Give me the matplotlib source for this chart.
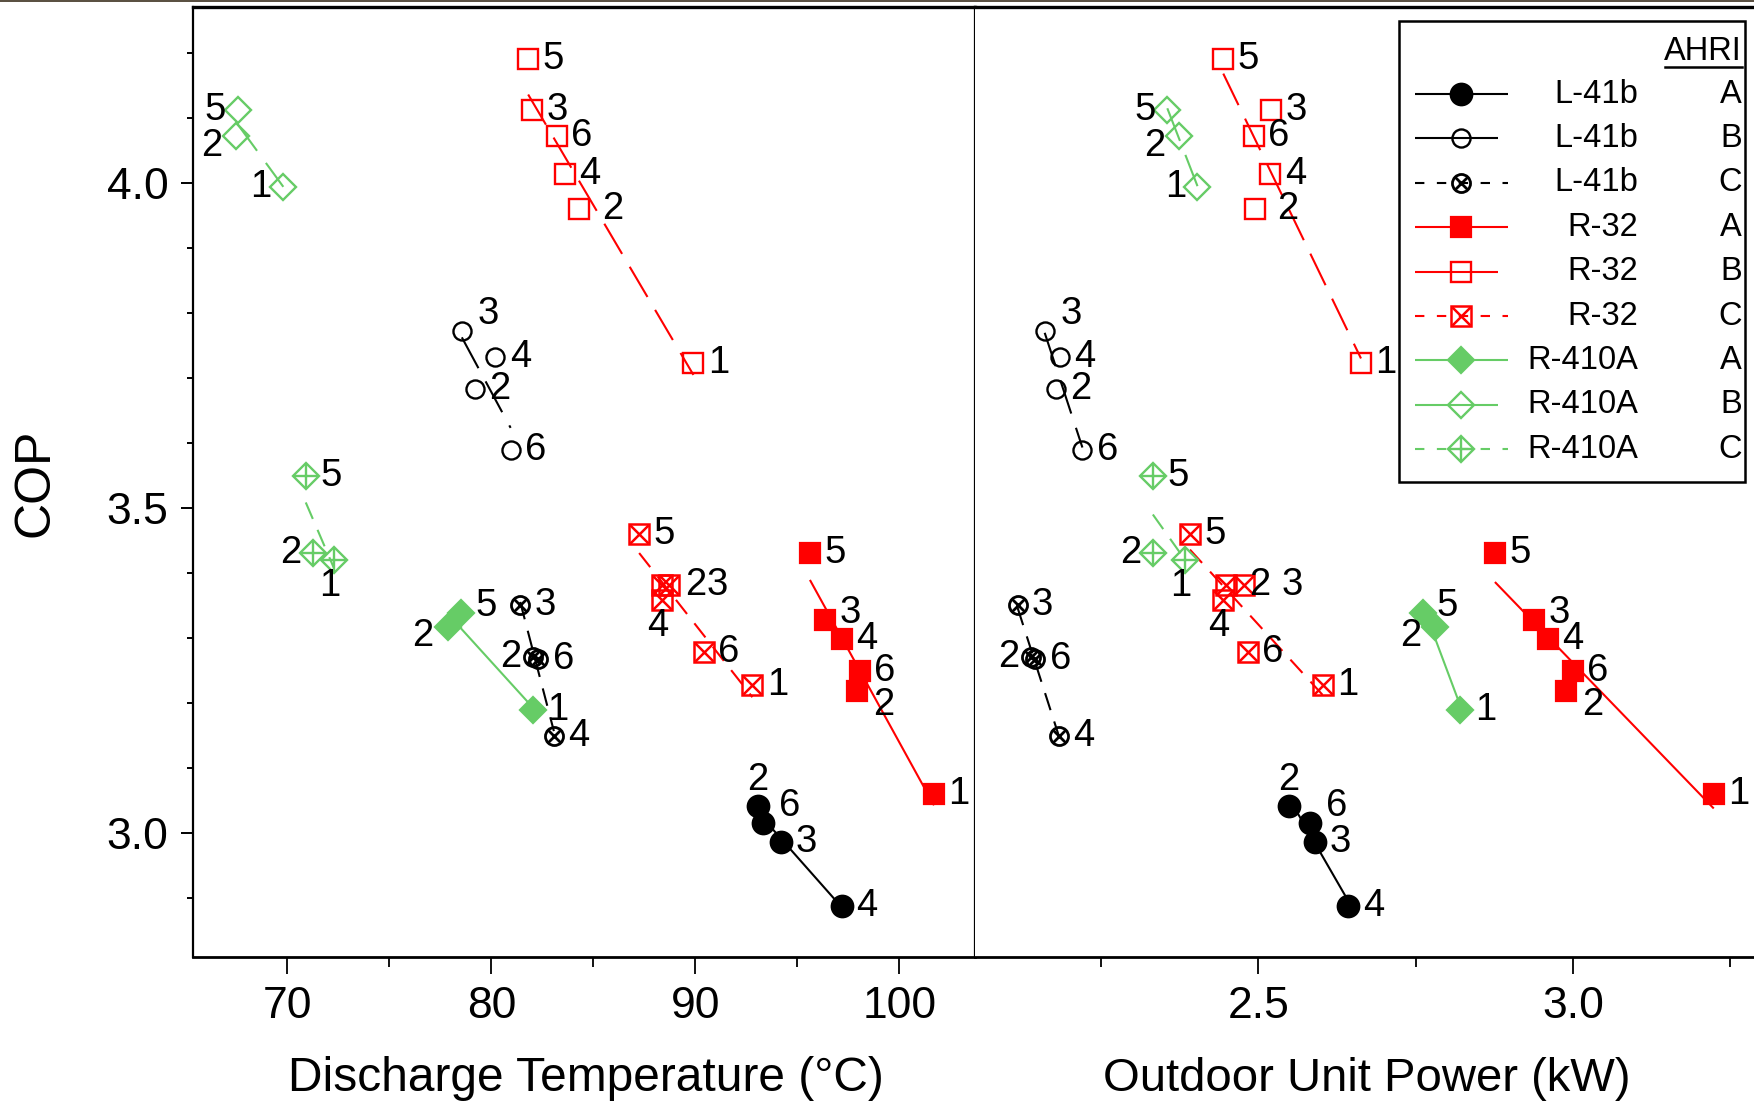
import numpy as np
import matplotlib
matplotlib.use("Agg")
import matplotlib.pyplot as plt
from matplotlib.lines import Line2D
from matplotlib.patches import Rectangle

plt.rcParams["font.family"] = ["Liberation Sans", "DejaVu Sans"]

# ---------------------------------------------------------------- data
# test point numbers for each refrigerant
l41b_ids = ["2", "3", "4", "6"]
r32_ids = ["1", "2", "3", "4", "5", "6"]
r410a_ids = ["1", "2", "5"]

# L-41b
l41b_a_temp = [93.06, 94.19, 97.17, 93.32]
l41b_a_power = [2.548, 2.590, 2.643, 2.582]
l41b_a_cop = [3.041, 2.986, 2.887, 3.015]

l41b_b_temp = [79.19, 78.55, 80.19, 80.94]
l41b_b_power = [2.178, 2.160, 2.184, 2.220]
l41b_b_cop = [3.683, 3.772, 3.732, 3.589]

l41b_c_temp = [82.05, 81.41, 83.06, 82.30]
l41b_c_power = [2.138, 2.117, 2.183, 2.145]
l41b_c_cop = [3.270, 3.351, 3.149, 3.267]

# R-32
r32_a_temp = [101.69, 97.92, 96.37, 97.17, 95.61, 98.07]
r32_a_power = [3.224, 2.989, 2.938, 2.960, 2.876, 3.000]
r32_a_cop = [3.060, 3.218, 3.327, 3.298, 3.431, 3.248]

r32_b_temp = [89.90, 84.30, 82.00, 83.60, 81.80, 83.20]
r32_b_power = [2.663, 2.494, 2.520, 2.519, 2.444, 2.493]
r32_b_cop = [3.722, 3.959, 4.112, 4.013, 4.190, 4.072]

r32_c_temp = [92.79, 88.36, 88.69, 88.36, 87.24, 90.42]
r32_c_power = [2.602, 2.448, 2.477, 2.443, 2.391, 2.483]
r32_c_cop = [3.227, 3.381, 3.381, 3.358, 3.460, 3.278]

# R-410A
r410a_a_temp = [82.03, 77.86, 78.49]
r410a_a_power = [2.821, 2.781, 2.761]
r410a_a_cop = [3.189, 3.317, 3.338]

r410a_b_temp = [69.80, 67.50, 67.56]
r410a_b_power = [2.403, 2.374, 2.355]
r410a_b_cop = [3.993, 4.071, 4.112]

r410a_c_temp = [72.28, 71.23, 70.90]
r410a_c_power = [2.383, 2.332, 2.332]
r410a_c_cop = [3.420, 3.430, 3.549]

temp_ticks = [70, 80, 90, 100]
power_ticks = [2.5, 3.0]
cop_ticks = [3.0, 3.5, 4.0]

# ---------------------------------------------------------------- styles
RED = "#ff0000"
GREEN = "#66cc66"
BLACK = "#000000"
LW = 1.5
DASH_B = (16.8, 7.2)
DASH_C = (8.6, 5.7)
DASH_LEG = (4.5, 6.0)
NUM_SIZE = 27.5

# label placement codes -> offsets in points
OFFSETS = {
    "r": (18, 0), "l": (-16, 0), "u": (0, 19), "d": (-3, -19),
    "ru": (19, 12), "rs": (18, 5), "rd": (19, -10), "ld": (-18, -7),
    "rr": (24, 0), "r2": (24.5, 0), "r3": (35, 0),
}

series = [
    dict(name="L-41b", ahri="A", ids=l41b_ids, temp=l41b_a_temp, power=l41b_a_power,
         cop=l41b_a_cop, color=BLACK, marker="o", ms=15.5, filled=True, over=None,
         dash=None, mew=1.6, pos=["u", "r", "r", "ru"]),
    dict(name="L-41b", ahri="B", ids=l41b_ids, temp=l41b_b_temp, power=l41b_b_power,
         cop=l41b_b_cop, color=BLACK, marker="o", ms=13, filled=False, over=None,
         dash=DASH_B, mew=1.7, pos=["r", "ru", "r", "r"]),
    dict(name="L-41b", ahri="C", ids=l41b_ids, temp=l41b_c_temp, power=l41b_c_power,
         cop=l41b_c_cop, color=BLACK, marker="o", ms=13, filled=False, over=("x", 8),
         dash=DASH_C, mew=2.0, pos=["l", "r", "r", "r"]),
    dict(name="R-32", ahri="A", ids=r32_ids, temp=r32_a_temp, power=r32_a_power,
         cop=r32_a_cop, color=RED, marker="s", ms=14.5, filled=True, over=None,
         dash=None, mew=1.6, pos=["r", "rd", "rs", "r", "r", "r"]),
    dict(name="R-32", ahri="B", ids=r32_ids, temp=r32_b_temp, power=r32_b_power,
         cop=r32_b_cop, color=RED, marker="s", ms=14.5, filled=False, over=None,
         dash=DASH_B, mew=1.7, pos=["r", "rr", "r", "r", "r", "r"]),
    dict(name="R-32", ahri="C", ids=r32_ids, temp=r32_c_temp, power=r32_c_power,
         cop=r32_c_cop, color=RED, marker="s", ms=14.5, filled=False, over=("x", 13.5),
         dash=DASH_C, mew=1.8, pos=["r", "r2", "r3", "d", "r", "r"]),
    dict(name="R-410A", ahri="A", ids=r410a_ids, temp=r410a_a_temp, power=r410a_a_power,
         cop=r410a_a_cop, color=GREEN, marker="D", ms=13.5, filled=True, over=None,
         dash=None, mew=1.6, pos=["r", "ld", "rs"]),
    dict(name="R-410A", ahri="B", ids=r410a_ids, temp=r410a_b_temp, power=r410a_b_power,
         cop=r410a_b_cop, color=GREEN, marker="D", ms=13.5, filled=False, over=None,
         dash=DASH_B, mew=1.7, pos=["l", "ld", "l"]),
    dict(name="R-410A", ahri="C", ids=r410a_ids, temp=r410a_c_temp, power=r410a_c_power,
         cop=r410a_c_cop, color=GREEN, marker="D", ms=13.5, filled=False, over=("+", 18.5),
         dash=DASH_C, mew=1.7, pos=["d", "l", "r"]),
]


def marker_kw(s):
    return dict(marker=s["marker"], ms=s["ms"], mew=s["mew"], mec=s["color"],
                mfc=s["color"] if s["filled"] else "none")


def draw_series(ax, s, key):
    x = np.asarray(s[key], dtype=float)
    y = np.asarray(s["cop"], dtype=float)
    # least-squares trend line over the measured range
    k, b = np.polyfit(x, y, 1)
    xf = np.array([x.min(), x.max()])
    line, = ax.plot(xf, k * xf + b, color=s["color"], lw=LW, zorder=2,
                    solid_capstyle="butt", dash_capstyle="butt")
    if s["dash"] is not None:
        line.set_dashes(s["dash"])
    ax.plot(x, y, ls="none", zorder=3, **marker_kw(s))
    if s["over"] is not None:
        m, ms = s["over"]
        ax.plot(x, y, ls="none", marker=m, ms=ms, mew=s["mew"], mec=s["color"], zorder=4)
    for xi, yi, lab, p in zip(x, y, s["ids"], s["pos"]):
        ax.annotate(lab, (xi, yi), xytext=OFFSETS[p], textcoords="offset points",
                    ha="center", va="center", fontsize=NUM_SIZE, color="black", zorder=5)


# ---------------------------------------------------------------- figure
fig = plt.figure(figsize=(17.54, 11.02), dpi=100)
ax1 = fig.add_axes([0.1100, 0.1316, 0.4461, 0.8621])
ax2 = fig.add_axes([0.5561, 0.1316, 0.4439, 0.8621])

for s in series:
    draw_series(ax1, s, "temp")
    draw_series(ax2, s, "power")

ax1.set_xlim(65.37, 103.72)
ax2.set_xlim(2.0498, 3.288)
for ax in (ax1, ax2):
    ax.set_ylim(2.8088, 4.2703)
    ax.spines["top"].set_linewidth(2.4)
    ax.spines["bottom"].set_linewidth(2.0)
    ax.tick_params(axis="x", which="major", length=12, width=1.3, pad=9,
                   labelsize=32, direction="out")
    ax.tick_params(axis="x", which="minor", length=7, width=1.3, direction="out")

ax1.set_xticks(temp_ticks)
ax1.set_xticks([75, 85, 95], minor=True)
ax1.set_xticklabels([str(t) for t in temp_ticks])
ax1.set_yticks(cop_ticks)
ax1.set_yticks(np.round(np.arange(2.9, 4.25, 0.1), 1), minor=True)
ax1.set_yticklabels([f"{t:.1f}" for t in cop_ticks])
ax1.tick_params(axis="y", which="major", length=8.5, width=1.4, pad=9,
                labelsize=32, direction="out")
ax1.tick_params(axis="y", which="minor", length=4.3, width=1.4, direction="out")
ax1.spines["left"].set_linewidth(1.6)
ax1.spines["right"].set_linewidth(1.6)
ax1.spines["right"].set_color("black")

ax2.set_xticks(power_ticks)
ax2.set_xticks([2.25, 2.75, 3.25], minor=True)
ax2.set_xticklabels([f"{t:.1f}" for t in power_ticks])
ax2.set_yticks([])
ax2.spines["left"].set_visible(False)
ax2.spines["right"].set_visible(False)

fig.text(0.3341, 0.010, "Discharge Temperature (°C)", ha="center", va="baseline",
         fontsize=34.5)
fig.text(0.779, 0.010, "Outdoor Unit Power (kW)", ha="center", va="baseline",
         fontsize=34)
fig.text(0.0205, 0.562, "COP", rotation=90, ha="center", va="center", fontsize=36)

# thin rule along the top edge
fig.add_artist(Line2D([0, 1], [0.9995, 0.9995], transform=fig.transFigure,
                      color="#3b2f1e", lw=1.2))

# ---------------------------------------------------------------- legend
T = ax2.transAxes
box = Rectangle((0.5444, 0.5003), 0.9884 - 0.5444, 0.9856 - 0.5003, transform=T,
                facecolor="white", edgecolor="black", lw=1.8, zorder=10)
ax2.add_patch(box)
row_px = [94.3, 138.5, 182.9, 227.3, 271.7, 316.1, 360.5, 404.9, 449.3]
rows = [1 - (p - 7) / 950 for p in row_px]
ax2.text(0.9842, 1 - (51.7 - 7) / 950, "AHRI", transform=T, ha="right",
         va="center", fontsize=23.5, zorder=11)
ax2.add_line(Line2D([0.886, 0.9845], [1 - (66.7 - 7) / 950] * 2, transform=T,
                    color="black", lw=1.8, zorder=11))
for s, yr in zip(series, rows):
    x_end = 0.6846 if s["ahri"] != "B" else 0.671
    ln = Line2D([0.5647, x_end], [yr, yr], transform=T, color=s["color"], lw=LW,
                zorder=11, solid_capstyle="butt", dash_capstyle="butt")
    if s["ahri"] == "C":
        ln.set_dashes(DASH_LEG)
    ax2.add_line(ln)
    ax2.add_line(Line2D([0.6233], [yr], transform=T, ls="none", zorder=12,
                        **marker_kw(s)))
    if s["over"] is not None:
        m, ms = s["over"]
        ax2.add_line(Line2D([0.6233], [yr], transform=T, ls="none", marker=m, ms=ms,
                            mew=s["mew"], mec=s["color"], zorder=13))
    ax2.text(0.8514, yr, s["name"], transform=T, ha="right", va="center",
             fontsize=23.5, zorder=11)
    ax2.text(0.9842, yr, s["ahri"], transform=T, ha="right", va="center",
             fontsize=23.5, zorder=11)

fig.savefig("out.png", dpi=100)
